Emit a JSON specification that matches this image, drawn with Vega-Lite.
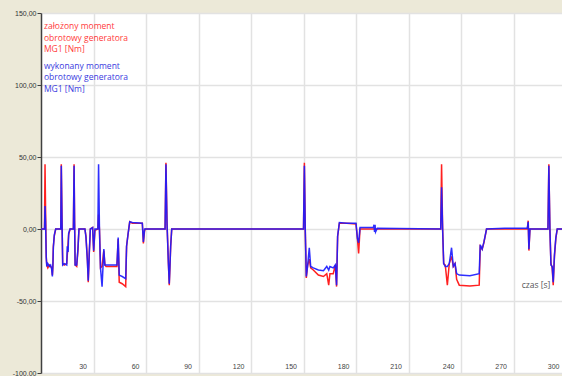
{
  "$schema": "https://vega.github.io/schema/vega-lite/v6.json",
  "autosize": {"type": "none"},
  "padding": {"left": 41, "top": 13, "right": -4, "bottom": 3},
  "width": 525,
  "height": 360,
  "background": "#ece9d8",
  "view": {"fill": "white", "stroke": null},
  "config": {
    "axis": {"labelFont": "Liberation Sans", "labelFontSize": 7, "labelColor": "#333333", "gridColor": "#e2e2e2", "gridWidth": 1.5, "title": null}
  },
  "datasets": {
    "zal": [
      {"t":0,"v":0},{"t":2.0,"v":0},{"t":2.3,"v":45},{"t":2.6,"v":15},{"t":3.0,"v":-19},{"t":3.3,"v":-25},{"t":3.9,"v":-27},{"t":4.8,"v":-25},{"t":5.5,"v":-26},{"t":6.1,"v":-27},{"t":6.5,"v":-32},{"t":6.8,"v":-26},{"t":7.05,"v":-12},{"t":7.6,"v":-5},{"t":8.4,"v":0},
      {"t":11.3,"v":0},{"t":11.6,"v":45},{"t":12.0,"v":8},{"t":12.4,"v":-24},{"t":13.3,"v":-25},{"t":14.7,"v":-24},{"t":15.2,"v":-15},{"t":15.8,"v":-4},{"t":16.6,"v":0},
      {"t":18.5,"v":0},{"t":18.9,"v":45},{"t":19.2,"v":5},{"t":19.5,"v":-25},{"t":20.4,"v":-26},{"t":21.1,"v":-15},{"t":21.7,"v":0},
      {"t":25.1,"v":0},{"t":25.7,"v":-5},{"t":26.5,"v":-21},{"t":27.0,"v":-37},{"t":27.6,"v":-17},{"t":28.2,"v":0},{"t":29.5,"v":1},{"t":30.1,"v":-16},{"t":30.8,"v":-1},
      {"t":32.5,"v":0},{"t":32.9,"v":10},{"t":33.4,"v":0},{"t":34.0,"v":-27},{"t":34.9,"v":-26},{"t":35.9,"v":-15},{"t":36.5,"v":-25},{"t":37.2,"v":-26},{"t":43.4,"v":-26},{"t":44.1,"v":-7},{"t":44.7,"v":-37},{"t":46.4,"v":-38},{"t":48.4,"v":-40},{"t":48.9,"v":-12},{"t":49.7,"v":-4},{"t":50.7,"v":5},{"t":52.2,"v":4},{"t":57.9,"v":4},{"t":58.5,"v":-10},{"t":59.2,"v":-1},{"t":59.8,"v":0},
      {"t":70.9,"v":0},{"t":71.4,"v":46},{"t":72.0,"v":5},{"t":72.8,"v":-24},{"t":73.3,"v":-39},{"t":74.1,"v":-12},{"t":74.7,"v":0},
      {"t":150.0,"v":0},{"t":150.5,"v":46},{"t":151.0,"v":0},{"t":151.6,"v":-34},{"t":152.4,"v":-25},{"t":153.3,"v":-21},{"t":154.1,"v":-27},{"t":155.6,"v":-28.5},{"t":158.5,"v":-32},{"t":161.4,"v":-33},{"t":163.3,"v":-31},{"t":164.4,"v":-39},{"t":165.1,"v":-31},{"t":167.0,"v":-31},{"t":168.2,"v":-25},{"t":168.9,"v":-40},{"t":169.5,"v":-5},{"t":170.5,"v":4},{"t":174.7,"v":4},{"t":180.0,"v":3.5},{"t":180.8,"v":-6.5},{"t":181.5,"v":-17},{"t":182.3,"v":0},
      {"t":228.4,"v":0},{"t":228.9,"v":45},{"t":229.5,"v":0},{"t":230.1,"v":-24},{"t":231.0,"v":-25},{"t":232.2,"v":-39},{"t":233.3,"v":-24},{"t":234.6,"v":-19},{"t":235.6,"v":-26},{"t":236.6,"v":-24},{"t":237.5,"v":-35},{"t":239.0,"v":-39},{"t":245.1,"v":-39.5},{"t":250.4,"v":-39},{"t":251.0,"v":-12},{"t":252.1,"v":-14},{"t":253.1,"v":-9.5},{"t":254.6,"v":0},
      {"t":277.9,"v":0},{"t":278.4,"v":5.8},{"t":278.8,"v":-15},{"t":279.4,"v":0},{"t":289.7,"v":0},{"t":290.2,"v":45},{"t":290.8,"v":0},{"t":291.4,"v":-24},{"t":292.1,"v":-27},{"t":292.7,"v":-39},{"t":293.4,"v":-19},{"t":294.2,"v":-6.5},{"t":295.0,"v":0},{"t":300,"v":0}
    ],
    "wyk": [
      {"t":0,"v":0},{"t":2.0,"v":0},{"t":2.3,"v":16},{"t":2.6,"v":5},{"t":3.0,"v":-20},{"t":3.3,"v":-26},{"t":3.9,"v":-24},{"t":4.8,"v":-26},{"t":5.5,"v":-25},{"t":6.1,"v":-28},{"t":6.5,"v":-33},{"t":6.8,"v":-25},{"t":7.05,"v":-13},{"t":7.6,"v":-4},{"t":8.4,"v":0},
      {"t":11.3,"v":0},{"t":11.6,"v":44},{"t":12.0,"v":6},{"t":12.4,"v":-25},{"t":13.3,"v":-24},{"t":14.7,"v":-25},{"t":15.0,"v":-12},{"t":15.5,"v":-16},{"t":15.8,"v":-3},{"t":16.6,"v":0},
      {"t":18.5,"v":0},{"t":18.9,"v":44},{"t":19.2,"v":4},{"t":19.5,"v":-25},{"t":20.4,"v":-25},{"t":21.1,"v":-14},{"t":21.7,"v":0},
      {"t":25.1,"v":0},{"t":25.7,"v":-6},{"t":26.5,"v":-22},{"t":27.0,"v":-36},{"t":27.6,"v":-16},{"t":28.2,"v":0},{"t":29.5,"v":1},{"t":30.1,"v":-15},{"t":30.8,"v":0},
      {"t":32.5,"v":0},{"t":32.9,"v":45},{"t":33.4,"v":0},{"t":34.0,"v":-27},{"t":34.9,"v":-40},{"t":35.9,"v":-14},{"t":36.5,"v":-25},{"t":37.2,"v":-25},{"t":43.4,"v":-25},{"t":44.1,"v":-6},{"t":44.7,"v":-32},{"t":46.4,"v":-33},{"t":48.4,"v":-34.5},{"t":48.9,"v":-12},{"t":49.7,"v":-4},{"t":50.7,"v":5},{"t":52.2,"v":4.5},{"t":57.9,"v":4},{"t":58.5,"v":-9},{"t":59.2,"v":0},{"t":59.8,"v":0},
      {"t":70.9,"v":0},{"t":71.4,"v":45},{"t":72.0,"v":4},{"t":72.8,"v":-24},{"t":73.3,"v":-38},{"t":74.1,"v":-12},{"t":74.7,"v":0},
      {"t":150.0,"v":0},{"t":150.5,"v":44},{"t":151.0,"v":0},{"t":151.6,"v":-33},{"t":152.4,"v":-25},{"t":153.3,"v":-13},{"t":154.1,"v":-26},{"t":155.6,"v":-27},{"t":158.5,"v":-28.5},{"t":161.4,"v":-29},{"t":163.3,"v":-26},{"t":164.4,"v":-28.5},{"t":165.1,"v":-26},{"t":167.0,"v":-27},{"t":168.2,"v":-25},{"t":168.9,"v":-39},{"t":169.5,"v":-5},{"t":170.5,"v":4.5},{"t":174.7,"v":4},{"t":180.0,"v":4},{"t":180.8,"v":-6.5},{"t":181.5,"v":-9.5},{"t":182.3,"v":1},{"t":189.9,"v":1},{"t":190.3,"v":3},{"t":190.6,"v":-2},{"t":190.9,"v":3},{"t":191.2,"v":-2},{"t":192.2,"v":0.5},
      {"t":228.4,"v":0},{"t":228.9,"v":29},{"t":229.5,"v":0},{"t":230.1,"v":-24},{"t":231.0,"v":-26},{"t":232.2,"v":-26},{"t":233.3,"v":-24},{"t":234.6,"v":-13},{"t":235.6,"v":-26},{"t":236.6,"v":-24},{"t":237.5,"v":-31},{"t":239.0,"v":-32},{"t":245.1,"v":-32.5},{"t":250.4,"v":-31},{"t":251.0,"v":-11},{"t":252.1,"v":-14},{"t":253.1,"v":-9},{"t":254.6,"v":0},{"t":265.0,"v":0.5},
      {"t":277.9,"v":0.5},{"t":278.4,"v":5},{"t":278.8,"v":-14},{"t":279.4,"v":0},{"t":289.7,"v":0},{"t":290.2,"v":44},{"t":290.8,"v":0},{"t":291.4,"v":-25},{"t":292.1,"v":-26},{"t":292.7,"v":-37},{"t":293.4,"v":-18},{"t":294.2,"v":-6},{"t":295.0,"v":0},{"t":300,"v":0}
    ]
  },
  "layer": [
    {
      "data": {"name": "zal"},
      "mark": {"type": "line", "color": "#ff2020", "strokeWidth": 1.5, "clip": true},
      "encoding": {
        "x": {"field": "t", "type": "quantitative", "scale": {"domain": [0, 300], "nice": false, "zero": false},
          "axis": {"orient": "bottom", "values": [30, 60, 90, 120, 150, 180, 210, 240, 270, 300], "grid": true, "ticks": false, "tickSize": 0, "domain": false, "labelAlign": "right", "labelBaseline": "alphabetic", "labelPadding": -5, "labelOffset": -7, "labelColor": "#444444", "labelBound": false, "labelFlush": false, "labelOverlap": false}},
        "y": {"field": "v", "type": "quantitative", "scale": {"domain": [-100, 150], "nice": false, "zero": false},
          "axis": {"values": [-100, -75, -50, -25, 0, 25, 50, 75, 100, 125, 150], "grid": true, "tickSize": 4, "tickColor": "#404040", "domainColor": "#404040", "domainWidth": 1.5, "labelPadding": 1,
            "labelExpr": "replace(replace(format(datum.value, '.2f'), '.', ','), '\u2212', '-')"}}
      }
    },
    {
      "data": {"name": "wyk"},
      "mark": {"type": "line", "color": "#1c1cff", "strokeWidth": 1.5, "opacity": 0.92, "clip": true},
      "encoding": {
        "x": {"field": "t", "type": "quantitative"},
        "y": {"field": "v", "type": "quantitative"}
      }
    },
    {
      "data": {"values": [{}]},
      "mark": {"type": "text", "text": ["założony moment", "obrotowy generatora", "MG1 [Nm]"], "align": "left", "baseline": "top", "font": "Open Sans", "fontSize": 8.5, "lineHeight": 11.5, "color": "#ff3a3a"},
      "encoding": {"x": {"datum": 1.7}, "y": {"datum": 143.5}}
    },
    {
      "data": {"values": [{}]},
      "mark": {"type": "text", "text": ["wykonany moment", "obrotowy generatora", "MG1 [Nm]"], "align": "left", "baseline": "top", "font": "Open Sans", "fontSize": 8.5, "lineHeight": 11.5, "color": "#3a3ae0"},
      "encoding": {"x": {"datum": 1.7}, "y": {"datum": 116.3}}
    },
    {
      "data": {"values": [{}]},
      "mark": {"type": "text", "text": "czas [s]", "align": "center", "baseline": "middle", "font": "Open Sans", "fontSize": 8.5, "color": "#555555"},
      "encoding": {"x": {"datum": 282.9}, "y": {"datum": -38.9}}
    }
  ]
}
